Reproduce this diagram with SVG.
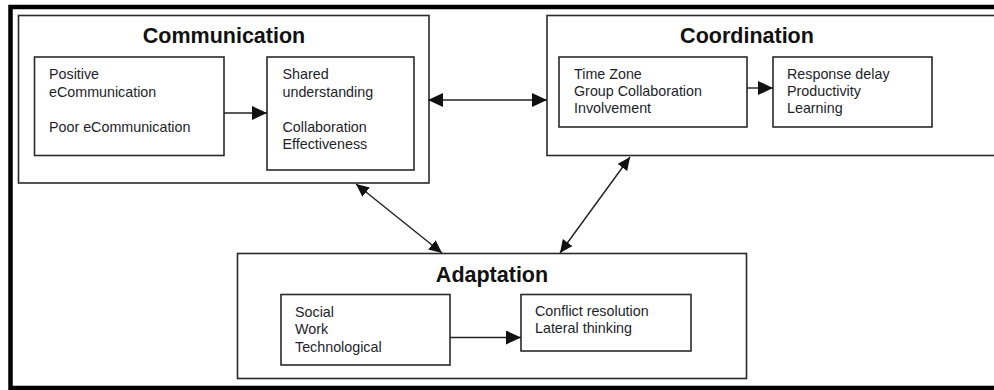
<svg xmlns="http://www.w3.org/2000/svg" width="994" height="390" viewBox="0 0 994 390">
<style>
.box{fill:#fff;stroke:#2a2a2a;stroke-width:1.6}
.ttl{font-family:"Liberation Sans",Arial,sans-serif;font-weight:bold;font-size:21.5px;fill:#111;text-anchor:middle}
.txt{font-family:"Liberation Sans",Arial,sans-serif;font-size:14.3px;fill:#1e1e2a}
.con{fill:none;stroke:#222;stroke-width:1.4}
</style>
<defs>
<marker id="ah" markerUnits="userSpaceOnUse" markerWidth="16" markerHeight="14" refX="15" refY="7" orient="auto-start-reverse">
<path d="M0,0 L15,7 L0,14 z" fill="#111"/>
</marker>
<marker id="ahs" markerUnits="userSpaceOnUse" markerWidth="14" markerHeight="12" refX="13" refY="6" orient="auto-start-reverse">
<path d="M0,0 L13,6 L0,12 z" fill="#111"/>
</marker>
</defs>
<rect width="994" height="390" fill="#fff"/>
<path d="M1000 7 H10.5 V388 H1000" fill="none" stroke="#000" stroke-width="4.5"/>

<g id="communication">
<rect class="box" x="18.5" y="15.5" width="410.5" height="167.5"/>
<text class="ttl" x="224" y="43">Communication</text>
</g>
<g id="comm-inputs">
<rect class="box" x="34.5" y="57" width="189.5" height="98.5"/>
<text class="txt" x="49" y="79">Positive</text>
<text class="txt" x="49" y="97">eCommunication</text>
<text class="txt" x="49" y="132">Poor eCommunication</text>
</g>
<g id="comm-outputs">
<rect class="box" x="267" y="57" width="147" height="113"/>
<text class="txt" x="282.5" y="79">Shared</text>
<text class="txt" x="282.5" y="97">understanding</text>
<text class="txt" x="282.5" y="132">Collaboration</text>
<text class="txt" x="282.5" y="149">Effectiveness</text>
</g>

<g id="coordination">
<rect class="box" x="547" y="15.5" width="460" height="140"/>
<text class="ttl" x="747" y="43">Coordination</text>
</g>
<g id="coord-inputs">
<rect class="box" x="559" y="57" width="188" height="70"/>
<text class="txt" x="574" y="79">Time Zone</text>
<text class="txt" x="574" y="96">Group Collaboration</text>
<text class="txt" x="574" y="113">Involvement</text>
</g>
<g id="coord-outputs">
<rect class="box" x="773" y="57" width="159" height="70"/>
<text class="txt" x="787" y="79">Response delay</text>
<text class="txt" x="787" y="96">Productivity</text>
<text class="txt" x="787" y="113">Learning</text>
</g>

<g id="adaptation">
<rect class="box" x="237.5" y="253.5" width="509" height="125"/>
<text class="ttl" x="492" y="282">Adaptation</text>
</g>
<g id="adapt-inputs">
<rect class="box" x="281" y="294.5" width="169" height="70.5"/>
<text class="txt" x="295" y="317">Social</text>
<text class="txt" x="295" y="334">Work</text>
<text class="txt" x="295" y="352">Technological</text>
</g>
<g id="adapt-outputs">
<rect class="box" x="521" y="294.5" width="170" height="56.5"/>
<text class="txt" x="535" y="316">Conflict resolution</text>
<text class="txt" x="535" y="333">Lateral thinking</text>
</g>

<g id="connectors">
<line class="con" x1="224" y1="113" x2="267" y2="113" marker-end="url(#ah)"/>
<line class="con" x1="747" y1="88" x2="773" y2="88" marker-end="url(#ah)"/>
<line class="con" x1="450" y1="337.5" x2="521" y2="337.5" marker-end="url(#ah)"/>
<line class="con" x1="428" y1="100" x2="547" y2="100" marker-start="url(#ah)" marker-end="url(#ah)"/>
<line class="con" x1="356" y1="184" x2="442" y2="253" marker-start="url(#ahs)" marker-end="url(#ahs)"/>
<line class="con" x1="630" y1="157" x2="560" y2="253" marker-start="url(#ahs)" marker-end="url(#ahs)"/>
</g>
</svg>
